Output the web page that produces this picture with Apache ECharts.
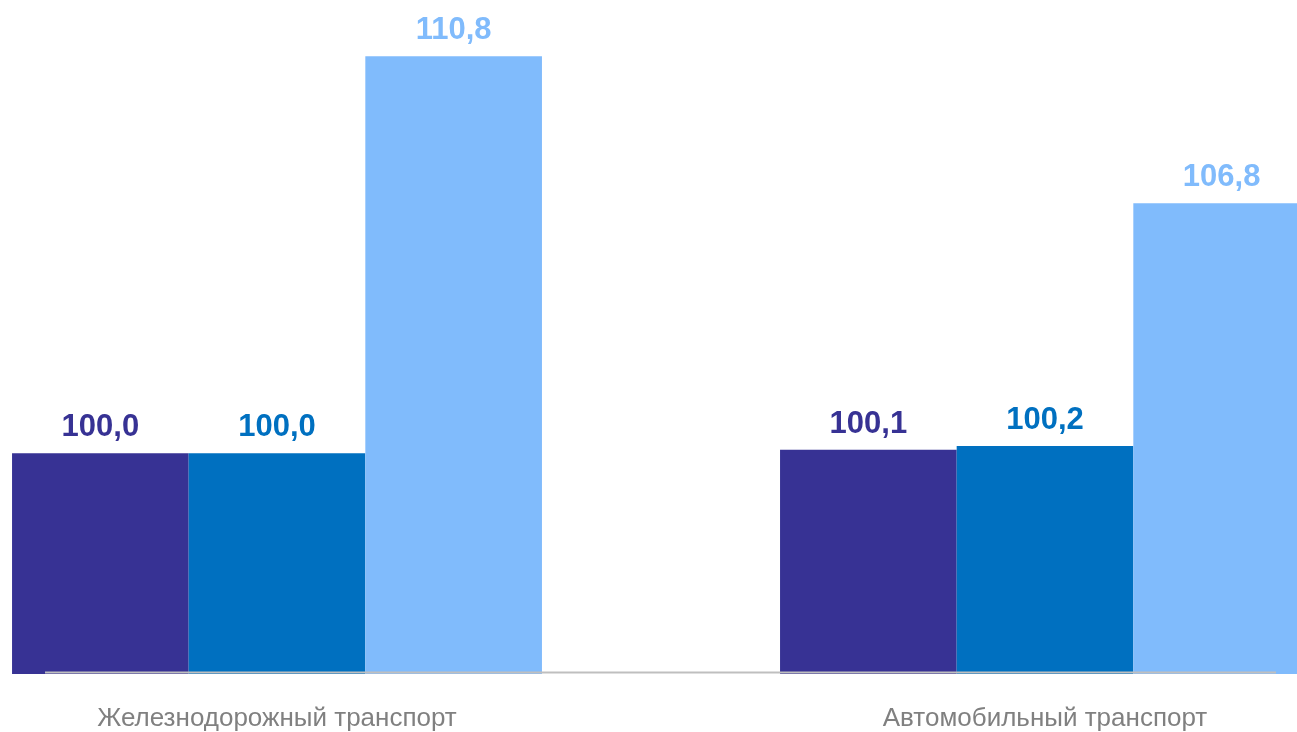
<!DOCTYPE html>
<html><head><meta charset="utf-8">
<script src="https://cdn.jsdelivr.net/npm/echarts@6/dist/echarts.min.js"></script>
<style>html,body{margin:0;padding:0;background:#fff}#c{width:1297px;height:732px}</style>
</head><body><div id="c"></div>
<script>
const categories = ['Железнодорожный транспорт', 'Автомобильный транспорт'];
const series1 = [100.0, 100.1];
const series2 = [100.0, 100.2];
const series3 = [110.8, 106.8];
const colors = ['#373294', '#0070C0', '#80BBFC'];

const chart = echarts.init(document.getElementById('c'));
function mk(data, color) {
  return {
    type: 'bar', data: data, barGap: '0%', barCategoryGap: '31%',
    itemStyle: { color: color },
    label: {
      show: true, position: 'top', distance: 10,
      color: color, fontFamily: 'Liberation Sans, Arial', fontWeight: 'bold', fontSize: 31,
      formatter: p => p.value.toFixed(1).replace('.', ',')
    }
  };
}
chart.setOption({
  animation: false,
  grid: { left: -107, width: 1536, top: 12, bottom: 58, outerBoundsMode: 'none', containLabel: false },
  xAxis: {
    type: 'category', data: categories,
    axisLine: { show: false }, axisTick: { show: false },
    axisLabel: { color: '#808080', fontSize: 26, fontFamily: 'Liberation Sans, Arial', margin: 32 }
  },
  yAxis: { type: 'value', min: 94, max: 112, show: false, splitLine: { show: false } },
  series: [mk(series1, colors[0]), mk(series2, colors[1]), mk(series3, colors[2])],
  graphic: [{
    type: 'line', z: 100,
    shape: { x1: 45, y1: 672.5, x2: 1276, y2: 672.5 },
    style: { stroke: '#BFBFBF', lineWidth: 2 }
  }]
});
</script></body></html>
